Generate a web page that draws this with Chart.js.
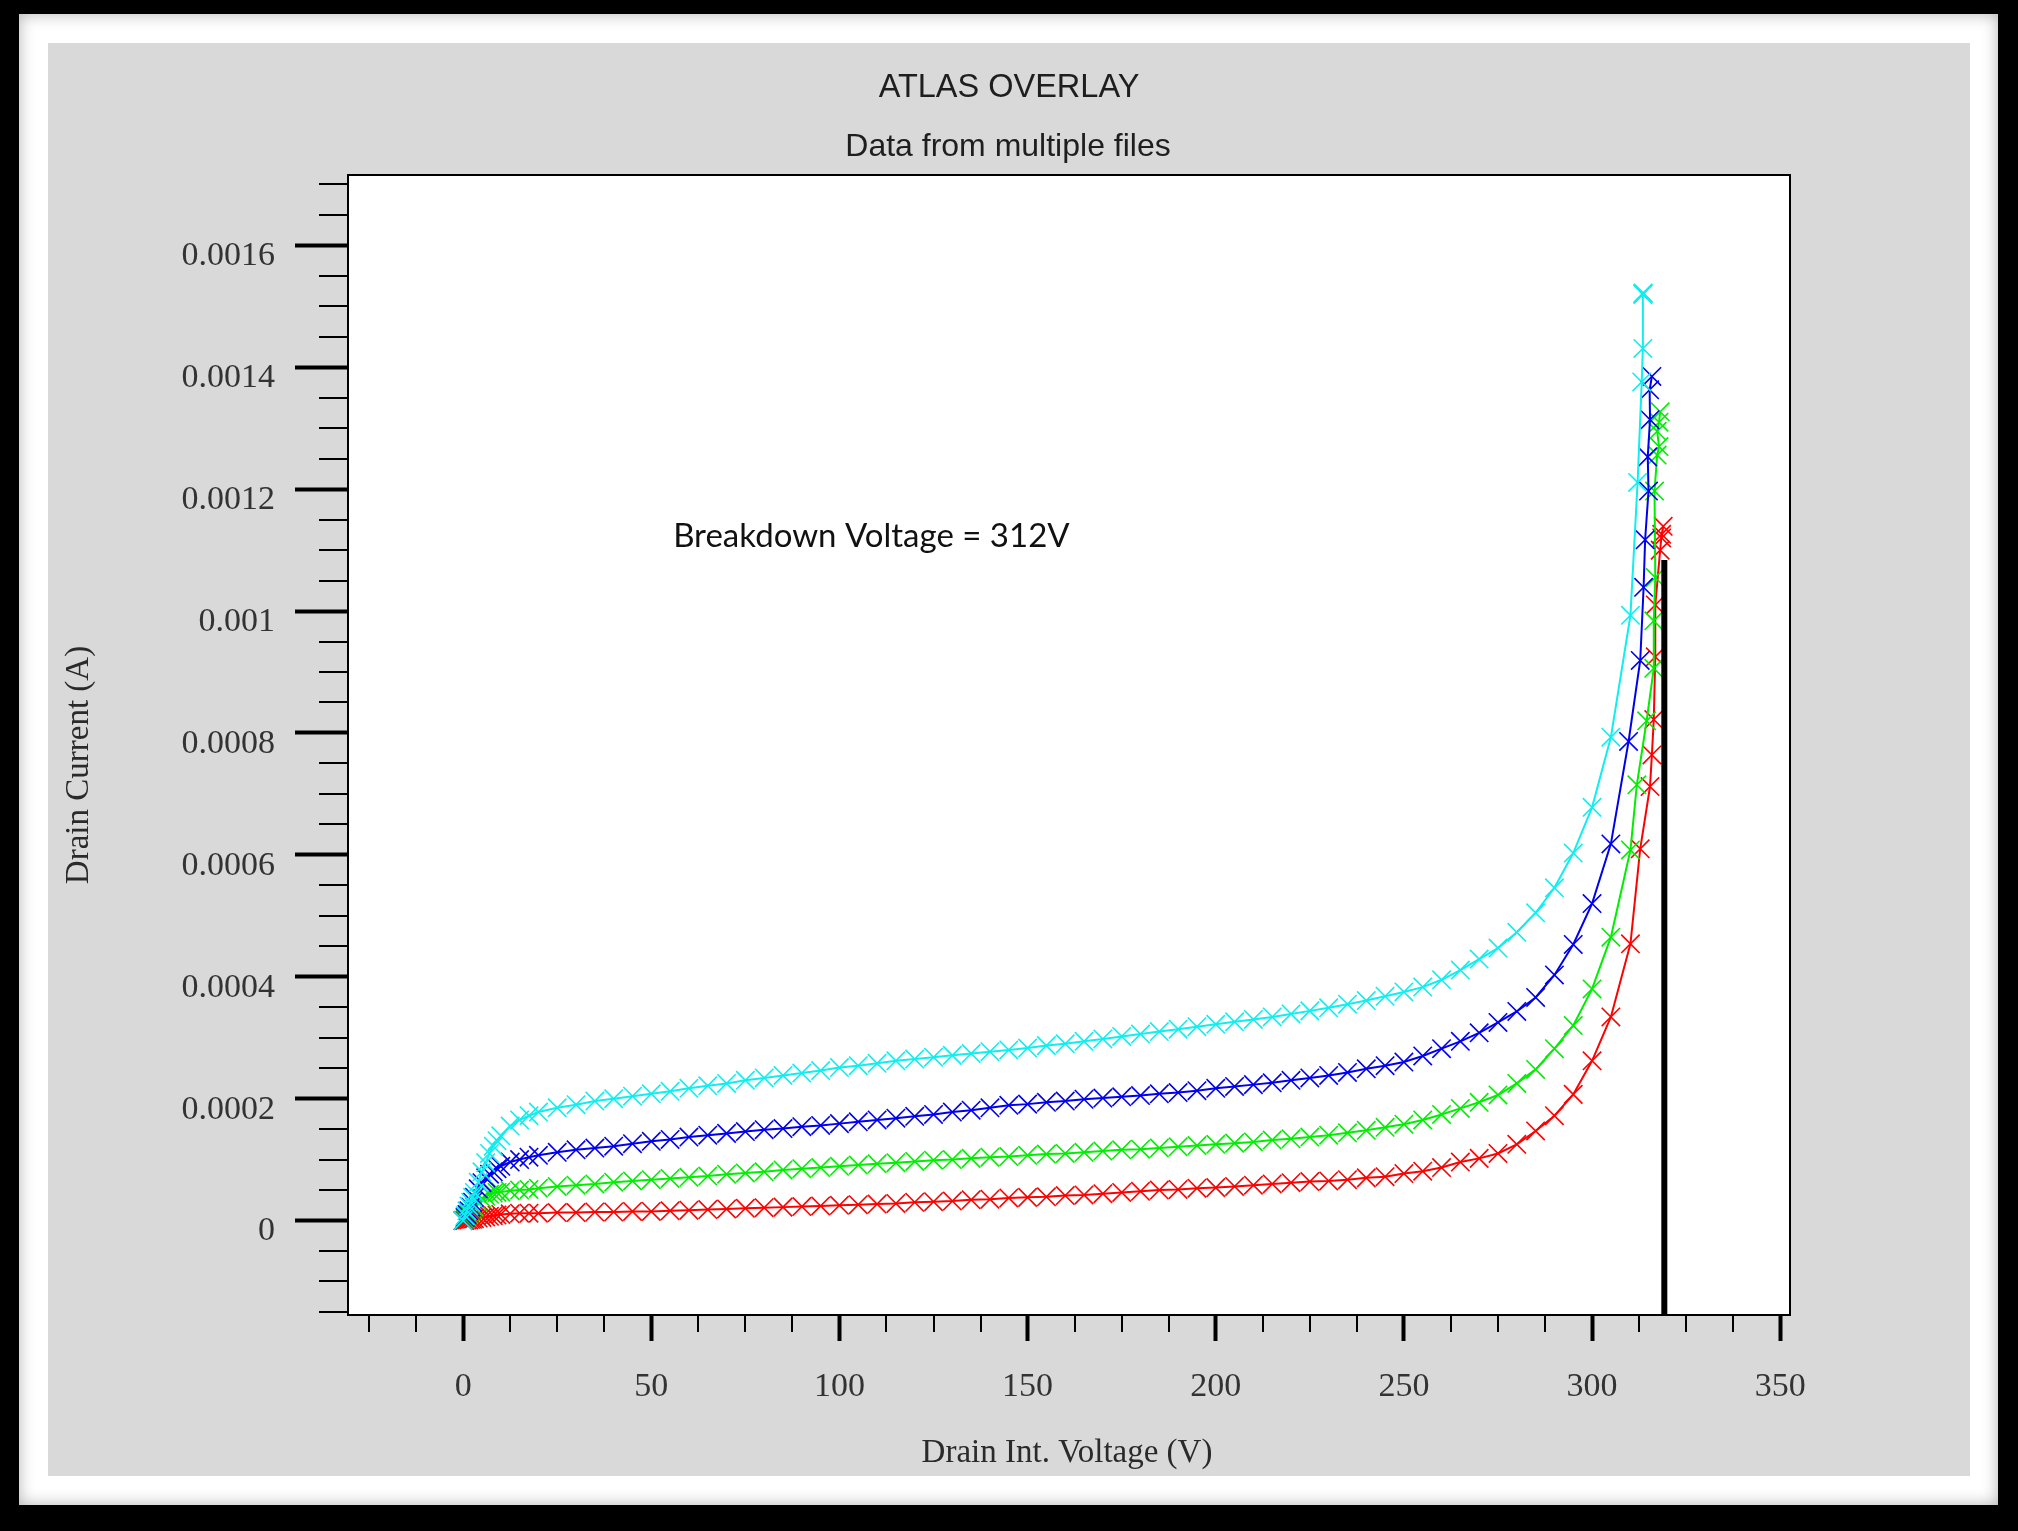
<!DOCTYPE html>
<html><head><meta charset="utf-8">
<script src="https://cdn.jsdelivr.net/npm/chart.js@4.4.1/dist/chart.umd.min.js"></script>
<style>
html,body{margin:0;padding:0;background:#000;width:2018px;height:1531px;overflow:hidden;}
#frame{position:absolute;left:19px;top:14px;width:1979px;height:1491px;background:#fff;box-shadow:inset 0 0 16px rgba(0,0,0,0.30);}
#panel{position:absolute;left:48px;top:43px;width:1922px;height:1433px;background:#d9d9d9;}
#c{position:absolute;left:0;top:0;}
</style></head>
<body>
<div id="frame"></div><div id="panel"></div>
<canvas id="c" width="2018" height="1531"></canvas>
<script>
// ---- data ----
const vGrid = [0,0.5,1,1.5,2,2.5,3,4,5,6,7,8,9,10,12.5,15,17.5,20,
  25,30,35,40,45,50,55,60,65,70,75,80,85,90,95,100,105,110,115,120,
  125,130,135,140,145,150,155,160,165,170,175,180,185,190,195,200,205,210,215,220,
  225,230,235,240,245,250,255,260,265,270,275,280,285,290,295,300];

const cyanI = [0,0.000008,0.000016,0.000024,0.00003,0.000038,0.000046,0.000063,0.00008,0.000095,0.00011,0.000122,0.000131,0.000139,
  0.000155,0.000165,0.000172,0.000178,
  0.000185,0.00019,0.000196,0.0002,0.000204,0.000208,0.000212,0.000217,0.000221,0.000225,
  0.00023,0.000234,0.000238,0.000242,0.000246,0.000251,0.000254,0.000258,0.000262,0.000265,
  0.000268,0.000271,0.000274,0.000277,0.00028,0.000283,0.000287,0.00029,0.000294,0.000298,
  0.000302,0.000306,0.00031,0.000314,0.000318,0.000322,0.000326,0.00033,0.000334,0.000339,
  0.000344,0.000349,0.000355,0.000361,0.000368,0.000375,0.000383,0.000395,0.000411,0.000429,
  0.000447,0.000473,0.000505,0.000546,0.000603,0.000678];
const cyanSpikeV = [305,310.2,312.1,313.2,313.5,313.5,313.5,313.5,313.6];
const cyanSpikeI = [0.000793,0.000993,0.001211,0.001376,0.001431,0.00152,0.001521,0.00152,0.001522];

const blueI = [0,0.000005,0.00001,0.000016,0.000022,0.00003,0.000038,0.000052,0.000062,0.00007,0.000076,0.00008,0.000085,0.000089,
  0.000096,0.0001,0.000104,0.000107,
  0.000112,0.000116,0.000119,0.000122,0.000126,0.00013,0.000133,0.000137,0.00014,0.000143,
  0.000146,0.000149,0.000151,0.000154,0.000156,0.000159,0.000162,0.000165,0.000168,0.000171,
  0.000174,0.000178,0.000181,0.000185,0.000189,0.000191,0.000194,0.000196,0.000199,0.000201,
  0.000203,0.000205,0.000208,0.00021,0.000213,0.000217,0.00022,0.000223,0.000226,0.00023,
  0.000234,0.000238,0.000243,0.000249,0.000254,0.00026,0.00027,0.000282,0.000294,0.000308,
  0.000325,0.000343,0.000366,0.000403,0.000453,0.00052];
const blueSpikeV = [305,309.7,312.8,313.7,314.1,315,314.8,315.4,315.3,315.9];
const blueSpikeI = [0.000618,0.000786,0.000919,0.001039,0.001117,0.001197,0.001253,0.001314,0.001363,0.001385];

const greenI = [0,0.000003,0.000006,0.00001,0.000014,0.000018,0.000022,0.00003,0.000036,0.00004,0.000043,0.000045,0.000046,0.000047,
  0.000049,0.00005,0.000051,0.000053,
  0.000056,0.000058,0.00006,0.000063,0.000065,0.000067,0.000069,0.000071,0.000073,0.000076,
  0.000078,0.00008,0.000083,0.000085,0.000087,0.000089,0.000091,0.000093,0.000095,0.000097,
  0.000099,0.0001,0.000102,0.000104,0.000105,0.000107,0.000109,0.00011,0.000112,0.000114,
  0.000116,0.000117,0.000119,0.000121,0.000123,0.000125,0.000127,0.000129,0.000132,0.000134,
  0.000137,0.00014,0.000144,0.000148,0.000153,0.000158,0.000165,0.000174,0.000184,0.000194,
  0.000206,0.000225,0.000248,0.000282,0.00032,0.00038];
const greenSpikeV = [305,310.2,311.9,314.5,316.4,316.4,316.8,316.6,317.3,317.8,317.3,317.8,318.1];
const greenSpikeI = [0.000465,0.000608,0.000715,0.00082,0.000906,0.000984,0.001055,0.001197,0.001256,0.00127,0.001295,0.00131,0.001327];

const redI = [0,0,0.000001,0.000001,0.000002,0.000002,0.000003,0.000004,0.000005,0.000006,0.000007,0.000008,0.000009,0.00001,
  0.000011,0.000012,0.000012,0.000012,
  0.000013,0.000013,0.000014,0.000014,0.000015,0.000015,0.000016,0.000017,0.000018,0.000019,
  0.00002,0.000021,0.000022,0.000023,0.000024,0.000025,0.000026,0.000027,0.000028,0.00003,
  0.000031,0.000032,0.000034,0.000035,0.000037,0.000038,0.000039,0.000041,0.000042,0.000044,
  0.000046,0.000048,0.00005,0.000051,0.000053,0.000054,0.000056,0.000058,0.00006,0.000062,
  0.000064,0.000065,0.000067,0.00007,0.000072,0.000077,0.000081,0.000087,0.000096,0.000102,
  0.00011,0.000125,0.000147,0.000172,0.000207,0.000262];
const redSpikeV = [305,310.2,312.8,315.4,315.9,316.4,316.8,316.8,318.1,318.5,318.9,318.5];
const redSpikeI = [0.000334,0.000454,0.00061,0.000712,0.000764,0.000822,0.000925,0.00101,0.0011,0.001126,0.001139,0.00112];

const breakdownV = [319.2, 319.2];
const breakdownI = [-0.000155, 0.001084];

const xTickValues = [0,50,100,150,200,250,300,350];
const xTickLabels = ['0','50','100','150','200','250','300','350'];
const yTickValues = [0,0.0002,0.0004,0.0006,0.0008,0.001,0.0012,0.0014,0.0016];
const yTickLabels = ['0','0.0002','0.0004','0.0006','0.0008','0.001','0.0012','0.0014','0.0016'];
const X_MIN = -30.6, X_MAX = 352.6, Y_MIN = -0.000155, Y_MAX = 0.0017155;
const X_MINOR_STEP = 12.5, Y_MINOR_STEP = 0.00005;

const annotation = {text:'Breakdown Voltage = 312V', x:55.8, y:0.001123};

// ---- helpers ----
function pts(vs, is){ return vs.map((v,i)=>({x:v, y:is[i]})); }
function series(color, spikeV, spikeI, base){
  return {
    data: pts(vGrid.concat(spikeV), base.concat(spikeI)),
    showLine:true, borderColor:color, borderWidth:2,
    pointStyle:'crossRot', pointRadius:13, pointBorderWidth:1.6,
    pointBorderColor:color, pointBackgroundColor:color, pointHoverRadius:13
  };
}

const decor = {
  id:'decor',
  beforeDraw(chart){
    const {ctx, chartArea:a} = chart;
    ctx.save(); ctx.fillStyle='#fff';
    ctx.fillRect(a.left, a.top, a.right-a.left, a.bottom-a.top);
    ctx.restore();
  },
  afterDraw(chart){
    const {ctx, chartArea:a, scales} = chart;
    const xs = scales.x, ys = scales.y;
    ctx.save();
    // plot border
    ctx.strokeStyle='#000'; ctx.lineWidth=2;
    ctx.strokeRect(a.left, a.top, a.right-a.left, a.bottom-a.top);
    // minor ticks
    ctx.lineWidth=2;
    ctx.beginPath();
    for(let v=Math.ceil(Y_MIN/Y_MINOR_STEP)*Y_MINOR_STEP; v<=Y_MAX+1e-12; v+=Y_MINOR_STEP){
      const r = Math.round(v/Y_MINOR_STEP);
      if (r % 4 === 0) continue;
      const p = Math.round(ys.getPixelForValue(v));
      ctx.moveTo(a.left-29, p); ctx.lineTo(a.left, p);
    }
    for(let v=Math.ceil(X_MIN/X_MINOR_STEP)*X_MINOR_STEP; v<=X_MAX+1e-9; v+=X_MINOR_STEP){
      const r = Math.round(v/X_MINOR_STEP);
      if (r % 4 === 0) continue;
      const p = Math.round(xs.getPixelForValue(v));
      ctx.moveTo(p, a.bottom); ctx.lineTo(p, a.bottom+17);
    }
    ctx.stroke();
    // titles
    ctx.fillStyle='#1e1e1e';
    ctx.textAlign='center'; ctx.textBaseline='middle';
    ctx.font='32.5px "Liberation Sans", Arial, sans-serif';
    ctx.fillText('ATLAS OVERLAY', 1009, 88);
    ctx.font='32px "Liberation Sans", Arial, sans-serif';
    ctx.fillText('Data from multiple files', 1008, 147);
    ctx.fillStyle='#2a2a2a';
    ctx.font='33px "Liberation Serif", serif';
    ctx.fillText('Drain Int. Voltage (V)', 1067, 1453);
    ctx.save();
    ctx.translate(79, 765); ctx.rotate(-Math.PI/2);
    ctx.fillText('Drain Current (A)', 0, 0);
    ctx.restore();
    // annotation
    ctx.fillStyle='#111';
    ctx.textAlign='left';
    ctx.font='33px Lato, "Open Sans", sans-serif';
    ctx.fillText(annotation.text, xs.getPixelForValue(annotation.x), ys.getPixelForValue(annotation.y));
    ctx.restore();
  }
};

new Chart(document.getElementById('c').getContext('2d'), {
  type:'scatter',
  data:{datasets:[
    {data: pts(breakdownV, breakdownI), showLine:true, borderColor:'#000', borderWidth:6, pointRadius:0, pointHoverRadius:0},
    series('#10eeee', cyanSpikeV, cyanSpikeI, cyanI),
    series('#0000ee', blueSpikeV, blueSpikeI, blueI),
    series('#00ee00', greenSpikeV, greenSpikeI, greenI),
    series('#ff0000', redSpikeV, redSpikeI, redI)
  ]},
  options:{
    responsive:false, animation:false, devicePixelRatio:1,
    events:[],
    layout:{padding:{left:48, top:175, right:2018-1790, bottom:1531-1476}},
    plugins:{legend:{display:false}, tooltip:{enabled:false}, title:{display:false}},
    scales:{
      x:{type:'linear', min:X_MIN, max:X_MAX,
        afterFit(s){ s.height = 1476-1315; },
        afterBuildTicks(s){ s.ticks = xTickValues.map(v=>({value:v})); },
        ticks:{callback:(v,i)=>xTickLabels[i], autoSkip:false, maxRotation:0,
          font:{family:'"Liberation Serif", serif', size:34}, color:'#333', padding:26},
        grid:{drawOnChartArea:false, tickLength:26, tickWidth:4, tickColor:'#000'},
        border:{display:false}
      },
      y:{type:'linear', min:Y_MIN, max:Y_MAX,
        afterFit(s){ s.width = 348-48; },
        afterBuildTicks(s){ s.ticks = yTickValues.map(v=>({value:v})); },
        ticks:{callback:(v,i)=>yTickLabels[i], autoSkip:false, labelOffset:11,
          font:{family:'"Liberation Serif", serif', size:34}, color:'#333', padding:20},
        grid:{drawOnChartArea:false, tickLength:53, tickWidth:4, tickColor:'#000'},
        border:{display:false}
      }
    }
  },
  plugins:[decor]
});
</script>
</body></html>
